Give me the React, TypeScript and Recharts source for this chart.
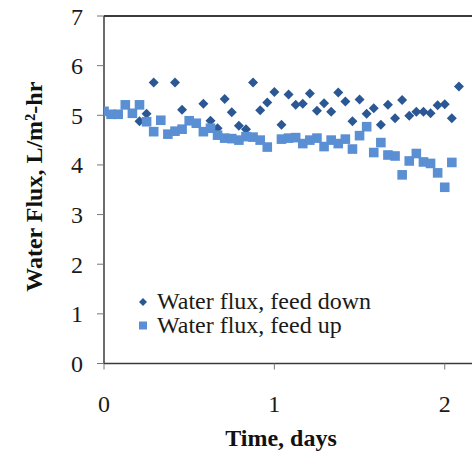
import React from 'react';
import { ScatterChart, Scatter, XAxis, YAxis, ReferenceLine, Legend, Label } from 'recharts';

// Water flux, feed down (hour of run, L/m2-hr)
const downHours = [5, 6, 7, 10, 11, 14, 15, 16, 17, 18, 19, 20, 21, 22, 23, 24, 25, 26, 27, 28, 29, 30, 31, 32, 33, 34, 35, 36, 37, 38, 39, 40, 41, 42, 43, 44, 45, 46, 47, 48, 49, 50];
const downFlux = [4.88, 5.03, 5.66, 5.66, 5.11, 5.23, 4.89, 4.74, 5.33, 5.06, 4.79, 4.72, 5.66, 5.1, 5.26, 5.47, 4.81, 5.42, 5.21, 5.23, 5.44, 5.09, 5.24, 5.07, 5.46, 5.28, 4.88, 5.32, 5.03, 5.14, 4.81, 5.21, 4.94, 5.31, 4.99, 5.07, 5.07, 5.04, 5.2, 5.22, 4.94, 5.58];

// Water flux, feed up
const upHours = [0, 1, 2, 3, 4, 5, 6, 7, 8, 9, 10, 11, 12, 13, 14, 15, 16, 17, 18, 19, 20, 21, 22, 23, 25, 26, 27, 28, 29, 30, 31, 32, 33, 34, 35, 36, 37, 38, 39, 40, 41, 42, 43, 44, 45, 46, 47, 48, 49];
const upFlux = [5.08, 5.02, 5.02, 5.21, 5.04, 5.21, 4.87, 4.67, 4.9, 4.62, 4.68, 4.72, 4.89, 4.84, 4.67, 4.74, 4.6, 4.54, 4.53, 4.5, 4.57, 4.56, 4.5, 4.36, 4.52, 4.54, 4.55, 4.43, 4.5, 4.54, 4.37, 4.5, 4.43, 4.52, 4.32, 4.59, 4.77, 4.25, 4.45, 4.2, 4.18, 3.8, 4.08, 4.23, 4.06, 4.03, 3.84, 3.55, 4.05];

const seriesNames = ['Water flux, feed down', 'Water flux, feed up'];
const seriesColors = ['#2b5894', '#5a8fd3'];
const xTicks = [0, 1, 2];
const yTicks = [0, 1, 2, 3, 4, 5, 6, 7];

const downData = downHours.map((h, i) => ({ t: h / 24, v: downFlux[i] }));
const upData = upHours.map((h, i) => ({ t: h / 24, v: upFlux[i] }));

const FONT = '"Liberation Serif", "Times New Roman", serif';

const Diamond = (props: any) => {
  const { cx, cy, fill } = props;
  const r = 5;
  return <polygon points={`${cx},${cy - r} ${cx + r},${cy} ${cx},${cy + r} ${cx - r},${cy}`} fill={fill} />;
};

const Square = (props: any) => {
  const { cx, cy, fill } = props;
  const s = 9.6;
  return <rect x={cx - s / 2} y={cy - s / 2} width={s} height={s} fill={fill} />;
};

const renderLegend = (props: any) => {
  const payload = props.payload || [];
  return (
    <div style={{ fontFamily: FONT, fontSize: 24, lineHeight: '24px', color: '#1a1a1a' }}>
      {payload.map((entry: any, i: number) => (
        <div key={i} style={{ display: 'flex', alignItems: 'center', height: 24, whiteSpace: 'nowrap' }}>
          <svg width={14} height={24} style={{ marginRight: 7 }}>
            {i === 0 ? (
              <polygon points="7,9 11,13 7,17 3,13" fill={seriesColors[0]} />
            ) : (
              <rect x={3} y={8.5} width={8} height={8} fill={seriesColors[1]} />
            )}
          </svg>
          <span>{entry.value}</span>
        </div>
      ))}
    </div>
  );
};

const YTitle = (props: any) => {
  const vb = props.viewBox || { y: 16, height: 347.5 };
  const cy = vb.y + vb.height / 2 - 3;
  const x = 41.5;
  return (
    <text
      x={x}
      y={cy}
      transform={`rotate(-90, ${x}, ${cy})`}
      textAnchor="middle"
      style={{ fontFamily: FONT, fontSize: 24, fontWeight: 'bold', fill: '#111' }}
    >
      Water Flux, L/m²-hr
    </text>
  );
};

export default function App() {
  return (
    <div style={{ position: 'absolute', left: 0, top: 0, background: '#fff' }}>
      <ScatterChart width={472} height={452} margin={{ top: 16, right: 0, bottom: 0, left: 0 }}>
        <XAxis
          dataKey="t"
          type="number"
          domain={[0, 2.16]}
          ticks={xTicks}
          allowDataOverflow
          height={88.5}
          tickSize={6}
          tickMargin={25}
          axisLine={{ stroke: '#3a3a3a', strokeWidth: 1.5 }}
          tickLine={{ stroke: '#777' }}
          tick={{ fontFamily: FONT, fontSize: 24, fill: '#1a1a1a' }}
        >
          <Label
            value="Time, days"
            position="insideBottom"
            offset={6}
            dx={-7}
            style={{ fontFamily: FONT, fontSize: 24, fontWeight: 'bold', fill: '#111' }}
          />
        </XAxis>
        <YAxis
          dataKey="v"
          type="number"
          domain={[0, 7]}
          ticks={yTicks}
          interval={0}
          width={104}
          tickSize={7}
          tickMargin={14}
          axisLine={{ stroke: '#3a3a3a', strokeWidth: 1.5 }}
          tickLine={{ stroke: '#777' }}
          tick={{ fontFamily: FONT, fontSize: 24, fill: '#1a1a1a' }}
        >
          <Label content={<YTitle />} />
        </YAxis>
        <ReferenceLine y={7} stroke="#3a3a3a" strokeWidth={2} />
        <Legend
          layout="vertical"
          align="center"
          verticalAlign="middle"
          content={renderLegend}
          wrapperStyle={{ position: 'absolute', left: 136, top: 289, width: 'auto', height: 'auto' }}
        />
        <Scatter
          name={seriesNames[0]}
          data={downData}
          fill={seriesColors[0]}
          shape={<Diamond />}
          isAnimationActive={false}
        />
        <Scatter
          name={seriesNames[1]}
          data={upData}
          fill={seriesColors[1]}
          shape={<Square />}
          isAnimationActive={false}
        />
      </ScatterChart>
    </div>
  );
}
